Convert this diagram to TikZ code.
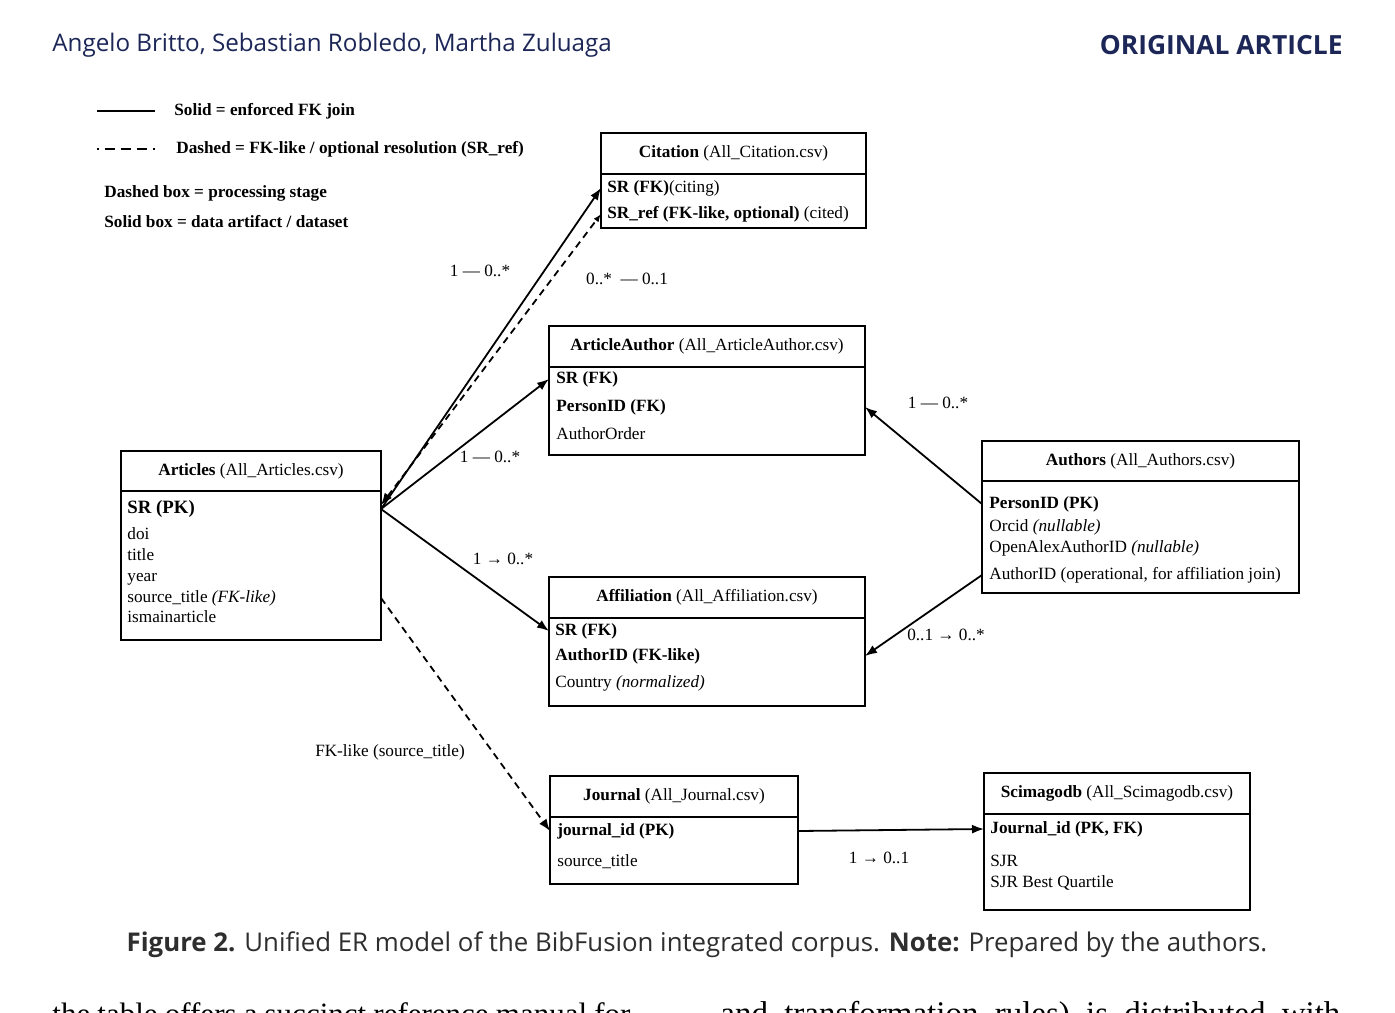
\documentclass[tikz,border=0pt]{standalone}
\usepackage{fontspec}
\setmainfont{Liberation Serif}
\newfontfamily\hdrfont{Open Sans}
\usepackage{xcolor}
\usetikzlibrary{calc,arrows.meta,positioning}
\definecolor{hdrnavy}{HTML}{1C2757}
\definecolor{capgray}{HTML}{2E2E2E}

\tikzset{
    every node/.style={font=\fontsize{8.6}{10.5}\selectfont},
    tblhead/.style={draw, line width=1pt, anchor=north west, inner sep=0pt, outer sep=0pt, align=center},
    tblbody/.style={draw, line width=1pt, anchor=north west, inner sep=0pt, outer sep=0pt},
    fld/.style={anchor=west, inner sep=0pt, text height=6.2pt, text depth=1.8pt},
    legtxt/.style={anchor=west, inner sep=0pt, font=\fontsize{8.6}{10.5}\selectfont\bfseries},
    card/.style={inner sep=0pt},
    rel/.style={line width=0.9pt, -{Latex[length=6pt,width=4.5pt]}},
    relopt/.style={rel, dash pattern=on 3.5pt off 2.5pt},
}

\begin{document}
\begin{tikzpicture}[x=0.5pt, y=-0.5pt]
    \useasboundingbox[fill=white] (0,0) rectangle (1395,1012);
    % page header
    \node[anchor=west, inner sep=0pt, text=hdrnavy, font=\hdrfont\fontsize{12.1}{14}\selectfont] (hdrAuth) at (52,45) {Angelo Britto, Sebastian Robledo, Martha Zuluaga};
    \node[anchor=east, inner sep=0pt, text=hdrnavy, font=\hdrfont\fontsize{13.2}{15}\selectfont\bfseries] (hdrType) at (1343,45) {ORIGINAL ARTICLE};
    % legend
    \coordinate (legS1) at (97,111);
    \coordinate (legS2) at (155,111);
    \draw[line width=1.1pt] (legS1) -- (legS2);
    \node[legtxt] (legSolid) at (174,111) {Solid = enforced FK join};
    \coordinate (legD1) at (97,149);
    \coordinate (legD2) at (155,149);
    \draw[line width=1.1pt, dash pattern=on 5pt off 3pt, dash phase=4pt] (legD1) -- (legD2);
    \node[legtxt] (legDashed) at (176,149) {Dashed = FK-like / optional resolution (SR\_ref)};
    \node[legtxt] (legDbox) at (104,193) {Dashed box = processing stage};
    \node[legtxt] (legSbox) at (104,222) {Solid box = data artifact / dataset};
    % Citation
    \node[tblhead, minimum width=132.5pt, minimum height=20.5pt] (citH) at (601,133) {\textbf{Citation} (All\_Citation.csv)};
    \node[tblbody, minimum width=132.5pt, minimum height=27pt] (citB) at (citH.south west) {};
    \node[fld] (citSR) at (607,188) {\textbf{SR (FK)}(citing)};
    \node[fld] (citRef) at (607,214) {\textbf{SR\_ref (FK-like, optional)} (cited)};
    % ArticleAuthor
    \node[tblhead, minimum width=158pt, minimum height=20.5pt] (aaH) at (549,326) {\textbf{ArticleAuthor} (All\_ArticleAuthor.csv)};
    \node[tblbody, minimum width=158pt, minimum height=44pt] (aaB) at (aaH.south west) {};
    \node[fld] (aaSR) at (556,379) {\textbf{SR (FK)}};
    \node[fld] (aaPID) at (556,407) {\textbf{PersonID (FK)}};
    \node[fld] (aaOrd) at (556,435) {AuthorOrder};
    % Articles
    \node[tblhead, minimum width=130pt, minimum height=20pt] (artH) at (121,451) {\textbf{Articles} (All\_Articles.csv)};
    \node[tblbody, minimum width=130pt, minimum height=74.5pt] (artB) at (artH.south west) {};
    \node[fld, font=\fontsize{9.4}{11}\selectfont] (artSR) at (127,509) {\textbf{SR (PK)}};
    \node[fld] (artDoi) at (127,535) {doi};
    \node[fld] (artTit) at (127,556) {title};
    \node[fld] (artYear) at (127,577) {year};
    \node[fld] (artSrc) at (127,598) {source\_title \textit{(FK-like)}};
    \node[fld] (artMain) at (127,618) {ismainarticle};
    % Authors
    \node[tblhead, minimum width=158.5pt, minimum height=20pt] (autH) at (982,441) {\textbf{Authors} (All\_Authors.csv)};
    \node[tblbody, minimum width=158.5pt, minimum height=56pt] (autB) at (autH.south west) {};
    \node[fld] (autPID) at (989,504) {\textbf{PersonID (PK)}};
    \node[fld] (autOrc) at (989,527) {Orcid \textit{(nullable)}};
    \node[fld] (autOA) at (989,548) {OpenAlexAuthorID \textit{(nullable)}};
    \node[fld] (autAID) at (989,575) {AuthorID (operational, for affiliation join)};
    % Affiliation
    \node[tblhead, minimum width=158pt, minimum height=20.5pt] (affH) at (549,577) {\textbf{Affiliation} (All\_Affiliation.csv)};
    \node[tblbody, minimum width=158pt, minimum height=44pt] (affB) at (affH.south west) {};
    \node[fld] (affSR) at (555,631) {\textbf{SR (FK)}};
    \node[fld] (affAID) at (555,656) {\textbf{AuthorID (FK-like)}};
    \node[fld] (affCty) at (555,683) {Country \textit{(normalized)}};
    % Journal
    \node[tblhead, minimum width=124pt, minimum height=20.5pt] (jouH) at (550,776) {\textbf{Journal} (All\_Journal.csv)};
    \node[tblbody, minimum width=124pt, minimum height=33.5pt] (jouB) at (jouH.south west) {};
    \node[fld] (jouID) at (557,831) {\textbf{journal\_id (PK)}};
    \node[fld] (jouSrc) at (557,862) {source\_title};
    % Scimagodb
    \node[tblhead, minimum width=133pt, minimum height=20.5pt] (sciH) at (984,773) {\textbf{Scimagodb} (All\_Scimagodb.csv)};
    \node[tblbody, minimum width=133pt, minimum height=48pt] (sciB) at (sciH.south west) {};
    \node[fld] (sciJID) at (990,829) {\textbf{Journal\_id (PK, FK)}};
    \node[fld] (sciSJR) at (990,862) {SJR};
    \node[fld] (sciQ) at (990,883) {SJR Best Quartile};
    % relations
    \draw[rel] (artB.east |- artSR) -- (citB.west |- citSR);
    \draw[relopt, {Latex[length=6pt,width=4.5pt]}-{Latex[length=4pt,width=3pt]}] ($(artB.east |- artSR)+(0,-4)$) -- (citB.west |- citRef);
    \draw[rel] (artB.east |- artSR) -- (aaB.west |- aaSR);
    \draw[rel] (artB.east |- artSR) -- (affB.west |- affSR);
    \draw[rel] (autB.west |- autPID) -- (aaB.east |- aaPID);
    \draw[rel] (autB.west |- autAID) -- (affB.east |- affAID);
    \draw[relopt] (artB.east |- artSrc) -- (jouB.west |- jouID);
    \draw[rel] (jouB.east |- jouID) -- (sciB.west |- sciJID);
    % cardinalities
    \node[card] (cCit) at (480,271) {1 — 0..*};
    \node[card] (cRef) at (627,279) {0..*\ \ — 0..1};
    \node[card] (cAA) at (490,457) {1 — 0..*};
    \node[card] (cAff) at (503,559) {1 → 0..*};
    \node[card] (cAutAA) at (938,403) {1 — 0..*};
    \node[card] (cAutAff) at (946,635) {0..1 → 0..*};
    \node[card] (cJou) at (390,752) {FK-like (source\_title)};
    \node[card] (cSci) at (879,858) {1 → 0..1};
    % caption and body text
    \node[inner sep=0pt, text=capgray, font=\hdrfont\fontsize{12.9}{15}\selectfont] (cap) at (697,945) {\textbf{Figure 2.} Unified ER model of the BibFusion integrated corpus. \textbf{Note:} Prepared by the authors.};
    \node[anchor=base west, inner sep=0pt, font=\fontsize{15.5}{18}\selectfont] (bodyL) at (52,1024) {\makebox[289pt][s]{the table offers a succinct reference manual for}};
    \node[anchor=base west, inner sep=0pt, font=\fontsize{16.5}{19}\selectfont] (bodyR) at (720,1024) {\makebox[310pt][s]{and transformation rules) is distributed with}};
\end{tikzpicture}
\end{document}
